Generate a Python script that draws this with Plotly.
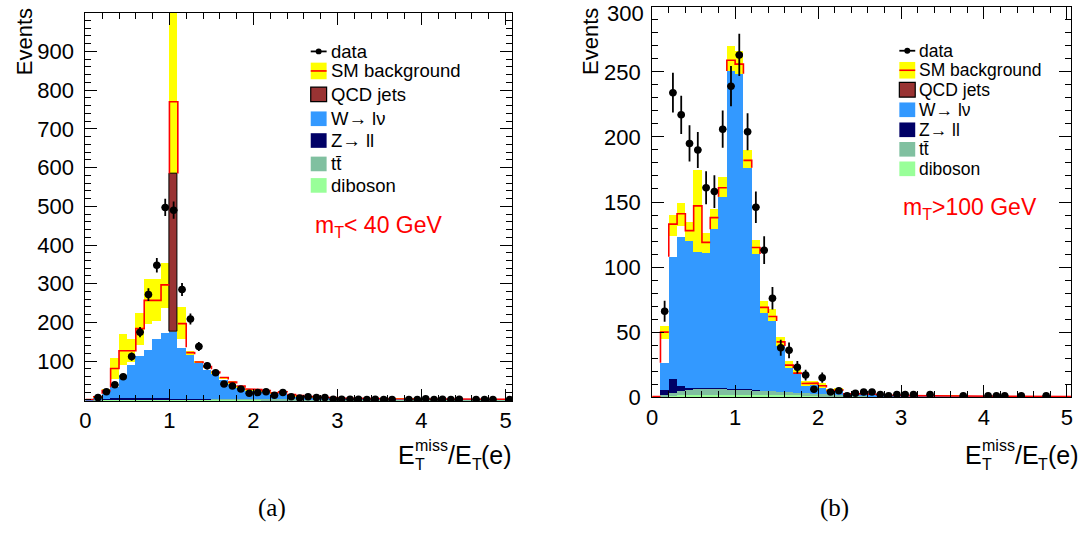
import numpy as np
import plotly.graph_objects as go

# 51 bins of width 0.1 on E_T^miss / E_T(e)
BIN_W = 0.1
NBINS = 51
edges = np.round(np.arange(NBINS + 1) * BIN_W, 3)
centers = edges[:-1] + BIN_W / 2

# ---------------- panel (a): m_T < 40 GeV ----------------
a_data = [0, 6, 21, 39, 60, 112, 175, 272, 348, 497, 490, 285, 209, 138, 88, 70, 41, 36, 28, 17,
          19, 21, 12, 19, 8, 5, 8, 6, 6, 2, 2, 2, 2, 1, 2, 1, 1, 0, 1, 1,
          3, 1, 2, 1, 2, 0, 1, 1, 1, 0, 1]
a_wlnu = [1, 4, 12.5, 28, 61, 85, 108, 124, 152, 169, 172, 132, 114, 91, 75, 65, 50, 40, 29, 21,
          21, 19, 13, 17, 10, 7, 6, 5.5, 4.5, 3.5, 2.5, 2.2, 2, 1.8, 1.6, 1.5, 1.3, 1.2, 1.1, 1.0,
          1.0, 0.9, 0.9, 0.8, 0.8, 0.7, 0.7, 0.6, 0.6, 0.5, 0.5]
a_qcd = [0] * 10 + [409] + [0] * 40
a_zll = [0, 0.5, 1, 2, 2, 2, 2, 2, 2, 2, 1, 1, 1, 1, 1] + [0] * 36
a_ttbar = [0, 1, 1.5] + [2] * 13 + [1.5] * 10 + [1] * 10 + [0.5] * 15
a_diboson = [0, 0.5] + [1] * 19 + [0.5] * 10 + [0.3] * 20
a_total = [1, 8, 24, 81, 127, 127, 184, 257, 257, 297, 770, 197, 122, 98, 86, 72, 58, 46, 36, 28,
           27, 24, 18, 21, 14, 11, 9, 8.5, 7, 6, 5, 4.5, 4, 4, 3.5, 3.2, 3, 3, 2.8, 2.6,
           2.5, 2.3, 2.2, 2.1, 2, 2, 1.9, 1.8, 1.7, 1.6, 1.5]
a_band_lo = [0, 6, 20, 54, 92, 100, 142, 197, 205, 238, 540, 159, 118, 95, 83, 69, 55, 43, 34, 26,
             25, 22, 16, 19, 12.5, 9.5, 7.5, 7, 5.8, 5, 4, 3.7, 3.2, 3.2, 2.8, 2.5, 2.4, 2.4, 2.2, 2,
             2, 1.8, 1.7, 1.6, 1.5, 1.5, 1.4, 1.3, 1.2, 1.1, 1]
a_band_hi = [2, 10, 28, 108, 171, 159, 226, 314, 314, 355, 1060, 240, 126, 101, 90, 75, 61, 49, 38, 30,
             29, 26, 20, 23, 15.5, 12.5, 10.5, 10, 8.2, 7, 6, 5.3, 4.8, 4.8, 4.2, 3.9, 3.6, 3.6, 3.4, 3.2,
             3, 2.8, 2.7, 2.6, 2.5, 2.5, 2.4, 2.3, 2.2, 2.1, 2]

# ---------------- panel (b): m_T > 100 GeV ----------------
b_data = [0, 66, 234, 217, 195, 190, 161, 158, 206, 239, 263, 204, 146, 113, 76, 38, 36, 23, 17, 6,
          15, 4, 5, 1, 3, 4, 4, 2, 1, 2, 2, 2, 0, 2, 0, 0, 0, 1, 0, 0,
          1, 1, 1, 0, 1, 0, 0, 1, 0, 0, 0]
b_wlnu = [0, 21, 94, 114, 113, 105, 104, 122, 147, 244, 242, 170, 104, 60, 54, 35, 18.5, 14, 6, 6.5,
          5, 2.5, 3, 0.5, 1, 1, 1, 0.8, 0.6, 0.5, 0.4, 0.4, 0.3, 0.3, 0.3, 0.3, 0.2, 0.2, 0.2, 0.2,
          0.2, 0.2, 0.1, 0.1, 0.1, 0.1, 0.1, 0.1, 0.1, 0.1, 0.1]
b_qcd = [0] * NBINS
b_zll = [0, 4, 11, 4.5, 1, 0.5, 0.5, 0.5, 0.5, 0.5, 0.5, 0.5, 0.5] + [0] * 38
b_ttbar = [0, 1, 2, 3, 4, 4.5, 4.5, 4.5, 4.5, 4.2, 4, 3.8, 3.5, 3.2, 3, 2.8, 2.5, 2.2, 2, 1.8,
           1.5, 1.2, 1, 0.8, 0.7, 0.6, 0.5, 0.5, 0.4, 0.4] + [0.2] * 21
b_diboson = [0, 0.5, 1, 1.5] + [2] * 9 + [1.5] * 5 + [1] * 5 + [0.5] * 8 + [0.2] * 20
b_total = [0.5, 50, 133, 141, 128, 147, 119, 138, 161, 259, 256, 182, 115, 69, 62, 42.5, 24.6, 18.5, 10.5, 10.8,
           8.8, 5, 5.5, 2.5, 3, 2.5, 2.2, 1.8, 1.5, 1.3, 1.2, 1.1, 1, 1, 1, 0.9, 0.9, 0.8, 0.8, 0.8,
           0.7, 0.7, 0.6, 0.6, 0.6, 0.5, 0.5, 0.5, 0.5, 0.5, 0.5]
b_band_lo = [0, 45, 124, 132, 120, 111, 111, 129, 153, 250, 248, 176, 109, 65, 58.5, 38.5, 21.6, 15.8, 8.3, 8.8,
             7, 4, 4.5, 1.5, 2.2, 1.8, 1.5, 1.1, 0.9, 0.7, 0.6, 0.5, 0.4, 0.4, 0.4, 0.3, 0.3, 0.2, 0.2, 0.2,
             0.2, 0.2, 0.1, 0.1, 0.1, 0.1, 0.1, 0.1, 0.1, 0.1, 0.1]
b_band_hi = [1, 55, 140, 149, 135, 175, 126, 145, 169, 270, 266, 190, 121, 74, 68, 46.7, 27.6, 21, 12.5, 12.8,
             10.8, 6.5, 7, 3.5, 3.8, 3.2, 2.9, 2.5, 2.1, 1.9, 1.8, 1.7, 1.6, 1.6, 1.6, 1.5, 1.5, 1.4, 1.4, 1.4,
             1.2, 1.2, 1.1, 1.1, 1.1, 0.9, 0.9, 0.9, 0.9, 0.9, 0.9]

LEGEND_LABELS = ["data", "SM background", "QCD jets", "W\u2192 l\u03bd", "Z\u2192 ll", "tt\u0304", "diboson"]
X_TICKS = [0, 1, 2, 3, 4, 5]

C_YELLOW = "#ffff00"
C_RED = "#ff0000"
C_QCD = "#993333"
C_W = "#3399ff"
C_Z = "#000066"
C_TT = "#80c0a0"
C_VV = "#99ff99"

W_PX, H_PX = 1082, 538
FONT = "Liberation Sans, Arial, sans-serif"

fig = go.Figure()


def px_x(p):
    return p / W_PX


def px_y(p):
    return 1 - p / H_PX


def add_panel(xa, ya, data, wlnu, qcd, zll, ttbar, vv, total, band_lo, band_hi):
    xr, yr = f"x{xa}" if xa > 1 else "x", f"y{ya}" if ya > 1 else "y"
    lo = np.array(band_lo, float)
    hi = np.array(band_hi, float)
    # uncertainty band of the SM expectation
    fig.add_trace(go.Bar(x=centers, y=hi - lo, base=lo, width=BIN_W, xaxis=xr, yaxis=yr,
                         marker=dict(color=C_YELLOW, line=dict(width=0)), showlegend=False))
    # stacked backgrounds: diboson, ttbar, Z, W, QCD
    base = np.zeros(NBINS)
    for vals, col, lw in [(vv, C_VV, 0), (ttbar, C_TT, 0), (zll, C_Z, 0), (wlnu, C_W, 0), (qcd, C_QCD, 1)]:
        v = np.array(vals, float)
        m = v > 0
        fig.add_trace(go.Bar(x=centers[m], y=v[m], base=base[m], width=BIN_W, xaxis=xr, yaxis=yr,
                             marker=dict(color=col, line=dict(width=lw, color="#000000")),
                             showlegend=False))
        base = base + v
    stack_top = base
    # SM total as a step outline; parts hidden behind the stack are left out
    t = np.array(total, float)
    xs, ys = [edges[0]], [t[0]]
    for i in range(NBINS):
        xs.append(edges[i + 1]); ys.append(t[i])
        if i + 1 < NBINS:
            occ = max(stack_top[i], stack_top[i + 1])
            lo_v, hi_v = min(t[i], t[i + 1]), max(t[i], t[i + 1])
            if occ > lo_v + 1e-9:
                if t[i] > t[i + 1]:
                    xs += [edges[i + 1], None, edges[i + 1]]
                    ys += [max(occ, lo_v), None, t[i + 1]]
                else:
                    xs += [None, edges[i + 1], edges[i + 1]]
                    ys += [None, min(max(occ, lo_v), hi_v), t[i + 1]]
            else:
                xs.append(edges[i + 1]); ys.append(t[i + 1])
    fig.add_trace(go.Scatter(x=xs, y=ys, mode="lines", xaxis=xr, yaxis=yr, connectgaps=False,
                             line=dict(color=C_RED, width=1.6), showlegend=False))
    # data points with Poisson errors
    d = np.array(data, float)
    m = d > 0
    fig.add_trace(go.Scatter(x=centers[m], y=d[m], mode="markers", xaxis=xr, yaxis=yr,
                             marker=dict(color="black", size=7.5),
                             error_y=dict(type="data", array=np.sqrt(d[m]), color="black", thickness=1.8, width=0),
                             error_x=dict(type="constant", value=0.044, color="black", thickness=1.8, width=0),
                             showlegend=False))


add_panel(1, 1, a_data, a_wlnu, a_qcd, a_zll, a_ttbar, a_diboson, a_total, a_band_lo, a_band_hi)
add_panel(2, 2, b_data, b_wlnu, b_qcd, b_zll, b_ttbar, b_diboson, b_total, b_band_lo, b_band_hi)

axis_common = dict(showline=True, linecolor="black", linewidth=1, mirror="ticks", ticks="inside",
                   tickcolor="black", tickwidth=1, showgrid=False, zeroline=False,
                   tickfont=dict(family=FONT, size=22, color="black"))

fig.update_layout(
    width=W_PX, height=H_PX, margin=dict(l=0, r=0, t=0, b=0),
    paper_bgcolor="white", plot_bgcolor="white", barmode="overlay", bargap=0, showlegend=False,
    xaxis=dict(domain=[px_x(80), px_x(510)], range=[0, 5.08], tickvals=X_TICKS, ticklen=12,
               minor=dict(ticks="inside", ticklen=6, dtick=0.2, tickcolor="black"), anchor="y", **axis_common),
    yaxis=dict(domain=[px_y(411), px_y(13)], range=[-3, 1000], tickvals=list(range(100, 1000, 100)),
               ticklen=12, ticklabelstandoff=6,
               minor=dict(ticks="inside", ticklen=6, dtick=20, tickcolor="black"), anchor="x", **axis_common),
    xaxis2=dict(domain=[px_x(651), px_x(1073)], range=[0, 5.05], tickvals=X_TICKS, ticklen=12,
                minor=dict(ticks="inside", ticklen=6, dtick=0.2, tickcolor="black"), anchor="y2", **axis_common),
    yaxis2=dict(domain=[px_y(407), px_y(7)], range=[0, 300], tickvals=list(range(0, 300, 50)),
                ticklen=12, ticklabelstandoff=6,
                minor=dict(ticks="inside", ticklen=6, dtick=10, tickcolor="black"), anchor="x2", **axis_common),
)

ann = []
shapes = []


def text(x, y, s, size, color="black", xanchor="left", yanchor="middle", angle=0, family=FONT):
    ann.append(dict(x=px_x(x), y=px_y(y), xref="paper", yref="paper", text=s, showarrow=False,
                    xanchor=xanchor, yanchor=yanchor, textangle=angle,
                    font=dict(family=family, size=size, color=color)))


# top tick label of panel (b), pushed inside the page
text(645, 14, "300", 22, xanchor="right")

# axis titles
for xc, yt in [(18, 6), (589, 6)]:
    text(xc, yt, "Events", 22, xanchor="center", yanchor="top", angle=-90)


def met_title(x0, yb):
    # E_T^miss / E_T(e) built from pieces so sub- and superscript stack
    text(x0, yb, "E", 25)
    text(x0 + 17, yb - 9, "miss", 16)
    text(x0 + 17, yb + 10, "T", 16)
    text(x0 + 50, yb, "/E", 25)
    text(x0 + 74, yb + 10, "T", 16)
    text(x0 + 84, yb, "(e)", 25)


met_title(393, 466)
met_title(964, 466)

# selection labels
text(309, 232, "m<sub>T</sub>&lt; 40 GeV", 23, color=C_RED)
text(902, 214, "m<sub>T</sub>&gt;100 GeV", 23, color=C_RED)

# captions
text(268, 521, "(a)", 25, xanchor="center", family="Liberation Serif, Times New Roman, serif")
text(835, 521, "(b)", 25, xanchor="center", family="Liberation Serif, Times New Roman, serif")


def legend(x0, rows, size):
    sx0, sx1 = x0, x0 + 16
    for lbl, yc in zip(LEGEND_LABELS, rows):
        text(sx1 + 2, yc, lbl, size)
    y = rows
    # data
    shapes.append(dict(type="line", xref="paper", yref="paper", x0=px_x(sx0), x1=px_x(sx1),
                       y0=px_y(y[0]), y1=px_y(y[0]), line=dict(color="black", width=1.8)))
    shapes.append(dict(type="circle", xref="paper", yref="paper", x0=px_x(sx0 + 5), x1=px_x(sx0 + 11),
                       y0=px_y(y[0] - 3), y1=px_y(y[0] + 3), fillcolor="black", line=dict(width=0)))
    # SM background
    shapes.append(dict(type="rect", xref="paper", yref="paper", x0=px_x(sx0), x1=px_x(sx1),
                       y0=px_y(y[1] - 8.5), y1=px_y(y[1] + 8.5), fillcolor=C_YELLOW, line=dict(width=0)))
    shapes.append(dict(type="line", xref="paper", yref="paper", x0=px_x(sx0), x1=px_x(sx1),
                       y0=px_y(y[1]), y1=px_y(y[1]), line=dict(color=C_RED, width=1.6)))
    for yc, col, lw in [(y[2], C_QCD, 1.2), (y[3], C_W, 0), (y[4], C_Z, 0), (y[5], C_TT, 0), (y[6], C_VV, 0)]:
        shapes.append(dict(type="rect", xref="paper", yref="paper", x0=px_x(sx0), x1=px_x(sx1),
                           y0=px_y(yc - 7.5), y1=px_y(yc + 7.5), fillcolor=col,
                           line=dict(width=lw, color="black")))


legend(307, [52.7, 72.7, 96.7, 121.7, 144, 168, 190], 18.5)
legend(900, [52, 72, 92, 112.5, 133, 153, 173], 17.5)

fig.update_layout(annotations=ann, shapes=shapes)
fig.write_html("out.html")
